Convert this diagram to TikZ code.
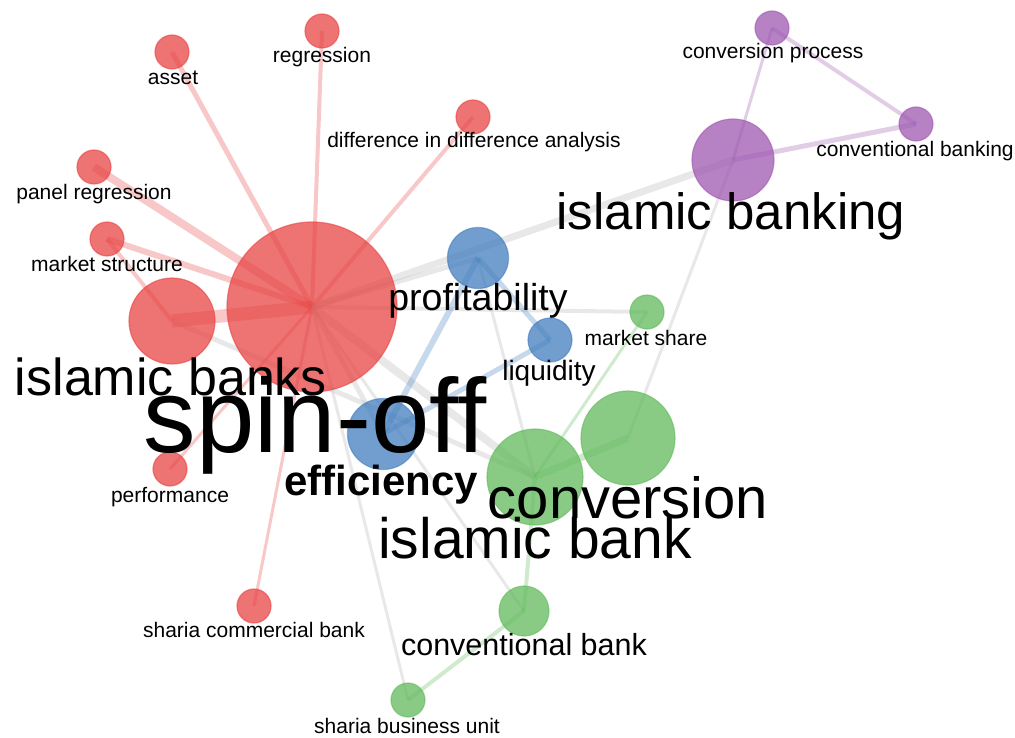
\documentclass[tikz,border=0pt]{standalone}
\usepackage{fontspec}
\setmainfont{Liberation Sans}
\usepackage{tikz}
\definecolor{clred}{RGB}{232,68,68}
\definecolor{clblue}{RGB}{66,126,190}
\definecolor{clgreen}{RGB}{98,186,92}
\definecolor{clpurple}{RGB}{158,88,176}
\definecolor{clgray}{RGB}{190,190,190}
\pgfdeclarelayer{background}
\pgfsetlayers{background,main}

\begin{document}
\begin{tikzpicture}[x=1pt, y=-1pt]
		\tikzstyle{kw} = [circle, inner sep = 0pt, line width = 1.2pt, fill opacity = 0.75, draw opacity = 0.6]
		\tikzstyle{red} = [kw, fill = clred, draw = clred]
		\tikzstyle{blue} = [kw, fill = clblue, draw = clblue]
		\tikzstyle{green} = [kw, fill = clgreen, draw = clgreen]
		\tikzstyle{purple} = [kw, fill = clpurple, draw = clpurple]
		\tikzstyle{lab} = [inner sep = 0pt, anchor = base, text = black]
		\tikzstyle{redl} = [draw = clred, draw opacity = 0.3]
		\tikzstyle{bluel} = [draw = clblue, draw opacity = 0.3]
		\tikzstyle{greenl} = [draw = clgreen, draw opacity = 0.3]
		\tikzstyle{purplel} = [draw = clpurple, draw opacity = 0.3]
		\tikzstyle{grayl} = [draw = clgray, draw opacity = 0.35]
		\useasboundingbox (0,0) rectangle (1015,738);
		
		% red cluster
		\node[red, minimum size = 170pt] at (312,307) (spinoff) {};
		\node[red, minimum size = 86pt] at (172,321) (islamicbanks) {};
		\node[red, minimum size = 34pt] at (172,52) (asset) {};
		\node[red, minimum size = 34pt] at (322,31) (regression) {};
		\node[red, minimum size = 34pt] at (473,117) (did) {};
		\node[red, minimum size = 34pt] at (94,167) (panelreg) {};
		\node[red, minimum size = 34pt] at (107,239) (mstructure) {};
		\node[red, minimum size = 34pt] at (170,469) (performance) {};
		\node[red, minimum size = 34pt] at (254,606) (shariacb) {};
		
		% blue cluster
		\node[blue, minimum size = 61pt] at (478,258) (profitability) {};
		\node[blue, minimum size = 44pt] at (550,340) (liquidity) {};
		\node[blue, minimum size = 71pt] at (383,434) (efficiency) {};
		
		% green cluster
		\node[green, minimum size = 96pt] at (535,477) (islamicbank) {};
		\node[green, minimum size = 94pt] at (628,438) (conversion) {};
		\node[green, minimum size = 34pt] at (647,312) (mshare) {};
		\node[green, minimum size = 50pt] at (524,611) (convbank) {};
		\node[green, minimum size = 34pt] at (408,700) (shariabu) {};
		
		% purple cluster
		\node[purple, minimum size = 82pt] at (733,160) (islamicbanking) {};
		\node[purple, minimum size = 34pt] at (772,28) (convprocess) {};
		\node[purple, minimum size = 34pt] at (916,124) (convbanking) {};
		
		\begin{pgfonlayer}{background}
		\draw[redl, line width = 13pt] (spinoff.center) -- (islamicbanks.center);
		\draw[redl, line width = 5pt] (spinoff.center) -- (asset.center);
		\draw[redl, line width = 4pt] (spinoff.center) -- (regression.center);
		\draw[redl, line width = 4pt] (spinoff.center) -- (did.center);
		\draw[redl, line width = 8pt] (spinoff.center) -- (panelreg.center);
		\draw[redl, line width = 6pt] (spinoff.center) -- (mstructure.center);
		\draw[redl, line width = 3pt] (spinoff.center) -- (performance.center);
		\draw[redl, line width = 3pt] (spinoff.center) -- (shariacb.center);
		\draw[redl, line width = 4pt] (islamicbanks.center) -- (mstructure.center);
		
		\draw[grayl, line width = 7pt] (spinoff.center) -- (islamicbanking.center);
		\draw[grayl, line width = 5pt] (spinoff.center) -- (profitability.center);
		\draw[grayl, line width = 8pt] (spinoff.center) -- (islamicbank.center);
		\draw[grayl, line width = 5pt] (spinoff.center) -- (efficiency.center);
		\draw[grayl, line width = 3pt] (spinoff.center) -- (convbank.center);
		\draw[grayl, line width = 3pt] (spinoff.center) -- (shariabu.center);
		\draw[grayl, line width = 4pt] (spinoff.center) -- (mshare.center);
		\draw[grayl, line width = 5pt] (islamicbanks.center) -- (islamicbank.center);
		\draw[grayl, line width = 3pt] (profitability.center) -- (islamicbank.center);
		\draw[grayl, line width = 3pt] (islamicbanking.center) -- (conversion.center);
		
		\draw[bluel, line width = 5pt] (profitability.center) -- (liquidity.center);
		\draw[bluel, line width = 6pt] (profitability.center) -- (efficiency.center);
		\draw[bluel, line width = 5pt] (liquidity.center) -- (efficiency.center);
		
		\draw[greenl, line width = 7pt] (islamicbank.center) -- (conversion.center);
		\draw[greenl, line width = 3pt] (islamicbank.center) -- (mshare.center);
		\draw[greenl, line width = 4pt] (islamicbank.center) -- (convbank.center);
		\draw[greenl, line width = 4pt] (convbank.center) -- (shariabu.center);
		
		\draw[purplel, line width = 3pt] (convprocess.center) -- (islamicbanking.center);
		\draw[purplel, line width = 4pt] (convprocess.center) -- (convbanking.center);
		\draw[purplel, line width = 5pt] (islamicbanking.center) -- (convbanking.center);
		\end{pgfonlayer}
		
		% labels
		\node[lab, font = \fontsize{21}{21}\selectfont] at (173,85) (asset-t) {asset};
		\node[lab, font = \fontsize{21}{21}\selectfont] at (322,63) (regression-t) {regression};
		\node[lab, font = \fontsize{21}{21}\selectfont] at (474,148) (did-t) {difference in difference analysis};
		\node[lab, font = \fontsize{21}{21}\selectfont] at (94,200) (panelreg-t) {panel regression};
		\node[lab, font = \fontsize{21}{21}\selectfont] at (107,272) (mstructure-t) {market structure};
		\node[lab, font = \fontsize{21}{21}\selectfont] at (170,502) (performance-t) {performance};
		\node[lab, font = \fontsize{21}{21}\selectfont] at (254,637) (shariacb-t) {sharia commercial bank};
		\node[lab, font = \fontsize{21}{21}\selectfont] at (407,733) (shariabu-t) {sharia business unit};
		\node[lab, font = \fontsize{21}{21}\selectfont] at (646,345) (mshare-t) {market share};
		\node[lab, font = \fontsize{21}{21}\selectfont] at (773,59) (convprocess-t) {conversion process};
		\node[lab, font = \fontsize{21}{21}\selectfont] at (915,157) (convbanking-t) {conventional banking};
		\node[lab, font = \fontsize{28}{28}\selectfont] at (549,380) (liquidity-t) {liquidity};
		\node[lab, font = \fontsize{30.5}{30.5}\selectfont] at (524,655) (convbank-t) {conventional bank};
		\node[lab, font = \fontsize{37.5}{37.5}\selectfont] at (478,310) (profitability-t) {profitability};
		\node[lab, font = \fontsize{42}{42}\selectfont\bfseries] at (381,495) (efficiency-t) {efficiency};
		\node[lab, font = \fontsize{51}{51}\selectfont] at (731,230) (islamicbanking-t) {islamic banking};
		\node[lab, font = \fontsize{52}{52}\selectfont] at (171,395) (islamicbanks-t) {islamic banks};
		\node[lab, font = \fontsize{58}{58}\selectfont] at (628,518) (conversion-t) {conversion};
		\node[lab, font = \fontsize{57}{57}\selectfont] at (535,558) (islamicbank-t) {islamic bank};
		\node[lab, font = \fontsize{105}{105}\selectfont] at (315,452) (spinoff-t) {spin-off};
\end{tikzpicture}
\end{document}
